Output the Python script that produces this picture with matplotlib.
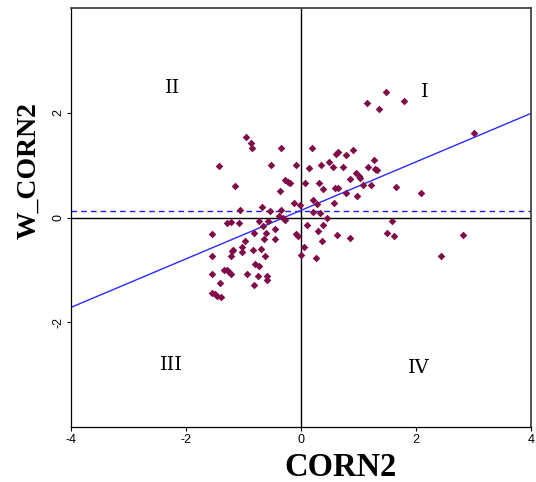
import matplotlib
matplotlib.use("Agg")
import matplotlib.pyplot as plt
import numpy as np

# CORN2 (x) and W_CORN2 (y) values
corn2 = [-0.96, -0.87, -0.85, -0.35, 0.19, -1.43, -0.53, -0.09, 0.14, 0.35,
         0.49, 0.56, 0.61, 0.64, -0.27, -0.23, -0.20, 0.07, 0.31, -1.15,
         0.39, 0.59, 0.64, -0.37, 1.47, 1.14, 1.35, 1.79, 3.00, 0.91,
         0.78, 1.27, 0.73, 1.16, 1.29, 1.32, 0.96, 1.00, 1.03, 0.86,
         1.07, 1.21, 1.66, 0.79, 0.98, 2.09, 0.57, 1.58, 0.63, 0.86,
         1.49, 1.61, 2.81, 2.43, 0.21, 0.28, -0.12, -0.02, -0.67, -0.54,
         -1.06, -0.34, 0.21, 0.33, 0.46, -0.39, -0.32, -0.28, -1.29, -1.21,
         -1.08, -0.73, -0.57, -0.66, 0.10, 0.38, -0.45, -0.81, -0.61, -1.55,
         -0.09, -0.06, 0.30, -0.64, -0.45, 0.36, -0.97, 0.06, -1.19, -1.20,
         -1.03, -1.03, -0.83, -0.70, -1.22, -1.55, -0.62, 0.00, 0.26, -0.80,
         -0.73, -1.34, -1.29, -1.25, -1.22, -1.54, -0.94, -0.74, -0.60, -0.60,
         -1.41, -0.81, -1.55, -1.50, -1.46, -1.40]
w_corn2 = [1.54, 1.42, 1.33, 1.33, 1.33, 0.98, 1.01, 1.01, 0.94, 1.01,
           1.06, 0.96, 1.22, 1.25, 0.71, 0.67, 0.66, 0.66, 0.66, 0.61,
           0.55, 0.57, 0.57, 0.50, 2.39, 2.19, 2.07, 2.23, 1.62, 1.28,
           1.19, 1.10, 0.96, 0.96, 0.93, 0.90, 0.85, 0.80, 0.76, 0.73,
           0.63, 0.63, 0.59, 0.47, 0.42, 0.47, 0.28, -0.06, -0.33, -0.39,
           -0.29, -0.36, -0.33, -0.73, 0.34, 0.26, 0.27, 0.23, 0.20, 0.12,
           0.15, 0.15, 0.10, 0.08, -0.01, 0.02, -0.01, -0.04, -0.10, -0.08,
           -0.10, -0.07, -0.07, -0.17, -0.15, -0.15, -0.22, -0.29, -0.29, -0.31,
           -0.31, -0.36, -0.26, -0.41, -0.41, -0.45, -0.44, -0.57, -0.62, -0.64,
           -0.57, -0.66, -0.63, -0.61, -0.73, -0.73, -0.73, -0.71, -0.78, -0.89,
           -0.92, -1.00, -1.00, -1.05, -1.08, -1.08, -1.08, -1.11, -1.11, -1.19,
           -1.26, -1.29, -1.45, -1.47, -1.50, -1.52]

intercept = 0.136
slope = 0.463
mean_level = 0.12
ticks = [-4, -2, 0, 2, 4]
quadrants = ["I", "II", "III", "IV"]
quad_x = [2.16, -2.24, -2.26, 2.05]
quad_y = [2.39, 2.47, -2.81, -2.87]

fig = plt.figure(figsize=(5.36, 4.82), dpi=100)
ax = fig.add_axes([71/536, 1-427/482, 460/536, 419/482])
ax.set_xlim(-4, 4)
ax.set_ylim(-4, 4)

ax.axhline(0, color="black", lw=1.0, zorder=1)
ax.axvline(0, color="black", lw=1.0, zorder=1)
ax.axhline(mean_level, color="#1a1aff", lw=1.0, ls=(0, (4, 3)), zorder=2)
xs = np.array([-4, 4])
ax.plot(xs, intercept + slope*xs, color="#2a2aff", lw=1.0, zorder=2)

ax.scatter(corn2, w_corn2, marker="D", s=15, color="#800a48", linewidths=0, zorder=3)

for lab, qx, qy in zip(quadrants, quad_x, quad_y):
    ax.text(qx, qy, lab, fontsize=14, family="DejaVu Serif", ha="center", va="center")

ax.set_xticks(ticks)
ax.set_yticks([-2, 0, 2])
ax.set_xticklabels([str(t) for t in ticks], family="Liberation Sans", fontsize=9)
ax.set_yticklabels(["-2", "0", "2"], family="Liberation Sans", fontsize=9, rotation=90, va="center")
ax.tick_params(direction="out", length=3, width=0.8, pad=2)

for s in ["left", "bottom"]:
    ax.spines[s].set_color("black")
    ax.spines[s].set_linewidth(0.9)
for s in ["top", "right"]:
    ax.spines[s].set_color("#444444")
    ax.spines[s].set_linewidth(1.3)

fig.text(341/536, 1-467/482, "CORN2", family="Liberation Serif", fontweight="bold",
         fontsize=23.5, ha="center", va="center")
fig.text(29/536, 1-170/482, "W_CORN2", family="Liberation Serif", fontweight="bold",
         fontsize=20, ha="center", va="center", rotation=90)

fig.savefig("out.png", dpi=100)
